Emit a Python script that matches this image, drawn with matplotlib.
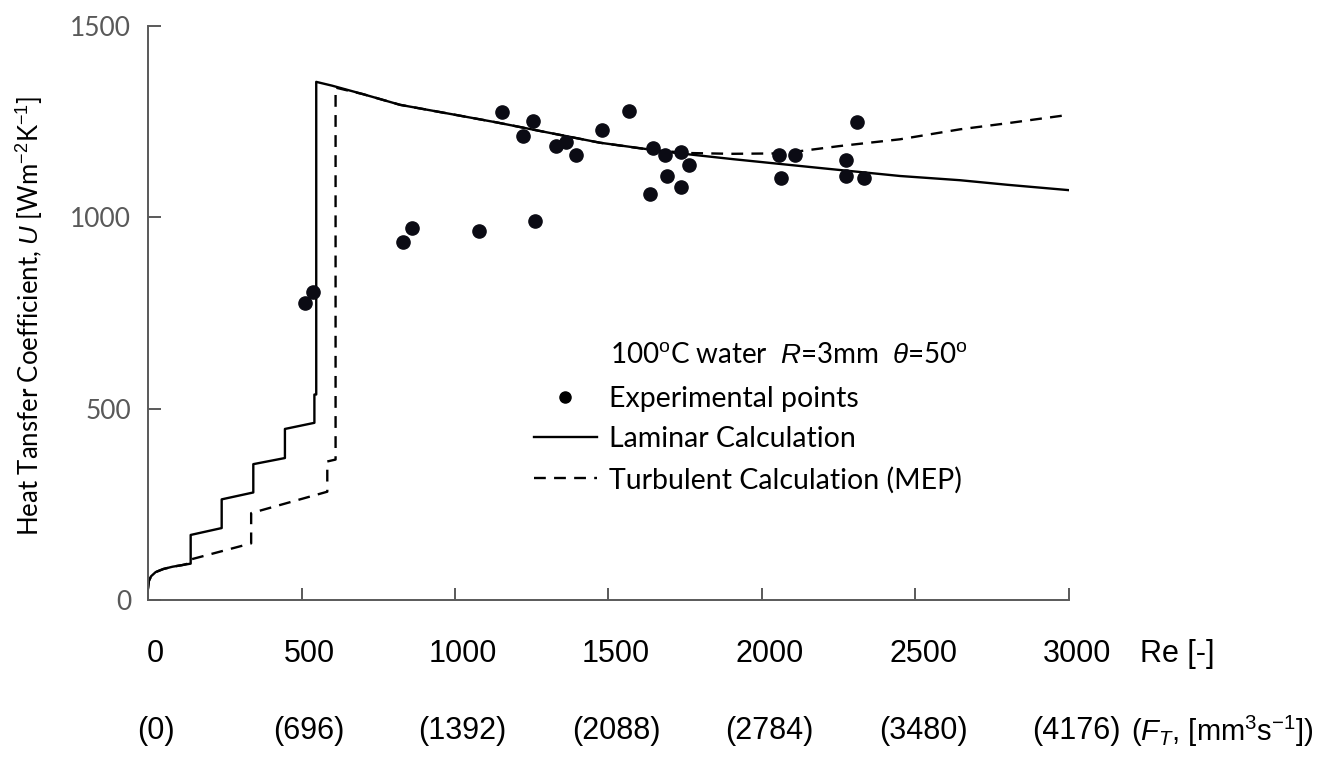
import matplotlib
matplotlib.use("Agg")
import matplotlib.pyplot as plt
from matplotlib.lines import Line2D

plt.rcParams["mathtext.fontset"] = "custom"
plt.rcParams["mathtext.rm"] = "Liberation Sans"
plt.rcParams["mathtext.it"] = "Liberation Sans:italic"
plt.rcParams["mathtext.bf"] = "Liberation Sans:bold"

# ---- data -------------------------------------------------------------
exp_re = [511, 538, 832, 859, 1078, 1154, 1221, 1253, 1261, 1328, 1362, 1393,
          1478, 1567, 1635, 1644, 1683, 1692, 1736, 1736, 1761, 2054, 2062,
          2108, 2275, 2275, 2310, 2331]
exp_u = [776, 804, 935, 972, 963, 1274, 1213, 1251, 991, 1186, 1196, 1163,
         1228, 1279, 1060, 1182, 1163, 1107, 1172, 1080, 1136, 1163, 1102,
         1163, 1150, 1108, 1248, 1102]

lam_re = [0, 3, 10, 25, 50, 80, 110, 139, 139, 240, 240, 343, 343, 446, 446,
          542, 542, 548, 548, 600, 700, 821, 1000, 1136, 1300, 1472, 1700,
          1906, 2200, 2450, 2645, 2800, 3000]
lam_u = [30, 50, 62, 73, 81, 87, 91, 95, 170, 188, 263, 281, 355, 371, 447,
         463, 537, 537, 1354, 1344, 1322, 1294, 1268, 1248, 1222, 1195, 1170,
         1152, 1128, 1108, 1097, 1085, 1071]

turb_re = [0, 3, 10, 25, 50, 80, 110, 130, 130, 336, 336, 584, 584, 611, 611,
           700, 821, 1000, 1136, 1300, 1472, 1650, 1765, 1900, 2048, 2124,
           2250, 2450, 2645, 2800, 3000]
turb_u = [30, 50, 62, 73, 81, 87, 91, 95, 104, 148, 227, 283, 362, 367, 1339,
          1322, 1294, 1268, 1248, 1222, 1195, 1175, 1168, 1166, 1167, 1173,
          1186, 1204, 1230, 1246, 1268]

re_ticks = [0, 500, 1000, 1500, 2000, 2500, 3000]
re_labels = ["0", "500", "1000", "1500", "2000", "2500", "3000"]
ft_labels = ["(0)", "(696)", "(1392)", "(2088)", "(2784)", "(3480)", "(4176)"]
u_ticks = [0, 500, 1000, 1500]
u_labels = ["0", "500", "1000", "1500"]

# ---- figure -----------------------------------------------------------
W, H = 1344, 760
fig = plt.figure(figsize=(W / 100, H / 100), dpi=100)
ax = fig.add_axes([148 / W, (H - 600) / H, (1069 - 148) / W, (600 - 26) / H])
ax.set_xlim(0, 3000)
ax.set_ylim(0, 1500)

axis_color = "#595959"
for side in ["top", "right"]:
    ax.spines[side].set_visible(False)
for side in ["left", "bottom"]:
    ax.spines[side].set_color(axis_color)
    ax.spines[side].set_linewidth(1.4)

ax.set_xticks(re_ticks)
ax.set_xticklabels([])
ax.tick_params(axis="x", direction="in", length=9, width=1.4, color=axis_color)
ax.set_yticks(u_ticks)
ax.set_yticklabels(u_labels, fontsize=19, color=axis_color, fontfamily="Lato")
ax.tick_params(axis="y", direction="in", length=9, width=1.4,
               color=axis_color, pad=12)

line_lam, = ax.plot(lam_re, lam_u, color="black", lw=1.7)
line_turb, = ax.plot(turb_re, turb_u, color="black", lw=1.7,
                     dashes=(5, 3.5))
pts, = ax.plot(exp_re, exp_u, "o", color="#0b0b14", ms=9.5, ls="none")

# Re labels and flow-rate labels below the axis
for r, lab, ft in zip(re_ticks, re_labels, ft_labels):
    ax.annotate(lab, xy=(r + 25, H - 654), xycoords=("data", "figure pixels"),
                ha="center", va="center", fontsize=22,
                fontfamily="Liberation Sans", annotation_clip=False)
    ax.annotate(ft, xy=(r + 25, H - 731), xycoords=("data", "figure pixels"),
                ha="center", va="center", fontsize=22,
                fontfamily="Liberation Sans", annotation_clip=False)
fig.text(1140 / W, (H - 654) / H, "Re [-]", ha="left", va="center",
         fontsize=22, fontfamily="Liberation Sans")
fig.text(1131 / W, (H - 731) / H, r"($F_T$, [mm$^3$s$^{-1}$])", ha="left",
         va="center", fontsize=21, fontfamily="Liberation Sans")

fig.text(30 / W, (H - 316) / H,
         r"Heat Tansfer Coefficient, $U$ [Wm$^{-2}$K$^{-1}$]",
         rotation=90, ha="center", va="center", fontsize=18.5,
         fontfamily="Lato")

# legend
fig.text(610 / W, (H - 355) / H,
         r"100$^{\rm o}$C water  $R$=3mm  $\theta$=50$^{\rm o}$",
         ha="left", va="center", fontsize=20, fontfamily="Lato")
handles = [Line2D([], [], marker="o", color="black", ls="none", ms=8),
           Line2D([], [], color="black", lw=1.7),
           Line2D([], [], color="black", lw=1.7, dashes=(5, 3.5))]
labels = ["Experimental points", "Laminar Calculation",
          "Turbulent Calculation (MEP)"]
ax.legend(handles, labels, loc="upper left",
          bbox_to_anchor=(534 / W, (H - 386) / H),
          bbox_transform=fig.transFigure, frameon=False, borderpad=0,
          borderaxespad=0, handlelength=2.2, handletextpad=0.42,
          labelspacing=0.5, prop={"family": "Lato", "size": 20.5})

fig.savefig("out.png", dpi=100)
